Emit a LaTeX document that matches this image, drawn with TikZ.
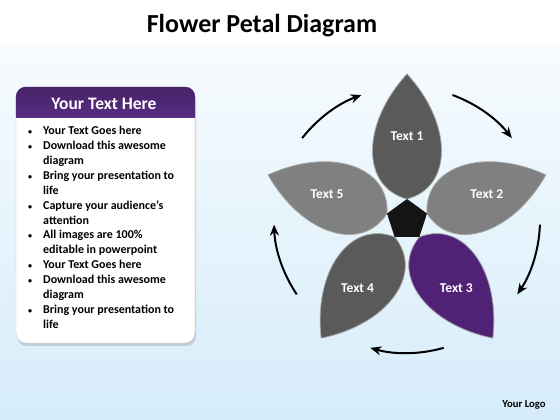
\documentclass[tikz,border=0pt]{standalone}
\usepackage{fontspec}
\setmainfont{Carlito}
\usetikzlibrary{positioning}
\usetikzlibrary{shapes.geometric, arrows.meta, shadows}
\definecolor{petalpurple}{RGB}{80,34,118}
\definecolor{headpurple}{RGB}{88,44,130}
\definecolor{darkpetal}{RGB}{90,90,90}
\definecolor{lightpetal}{RGB}{128,128,128}
\definecolor{bgblue}{RGB}{214,236,250}
\tikzstyle{cyclearrow} = [line width=2pt,-{Stealth[length=11pt,width=9pt]}]
\tikzstyle{petal} = [draw=white!65!black, line width=0.8pt]
\tikzstyle{petaltext} = [text=white, font=\fontsize{13.5}{16}\selectfont\bfseries]
\newcommand{\bitem}{\llap{{\fontsize{8}{8}\selectfont\textbullet}\hspace{11pt}}}

\begin{document}
\begin{tikzpicture}[x=1pt,y=1pt]
	%Background
	\useasboundingbox (0,0) rectangle (560,420);
	\fill[white] (0,375) rectangle (560,420);
	\shade[top color=bgblue!20!white, bottom color=bgblue] (0,0) rectangle (560,375);

	%Title
	\node (title) [font=\fontsize{26}{30}\selectfont\bfseries, anchor=base] at (262,387) {Flower Petal Diagram};

	%Text panel
	\node (panel) [draw=gray!40, fill=white, rounded corners=10pt, minimum width=179pt, minimum height=256pt,
		drop shadow={opacity=0.3, shadow xshift=1pt, shadow yshift=-3pt}] at (105.5,205) {};
	\begin{scope}
		\clip[rounded corners=10pt] (panel.south west) rectangle (panel.north east);
		\shade[top color=headpurple!80!black, bottom color=headpurple] (panel.north west) rectangle ([yshift=-31pt]panel.north east);
	\end{scope}
	\node (head) [text=white, font=\fontsize{17.5}{20}\selectfont\bfseries] at (104,316) {Your Text Here};
	\node (list) [anchor=north west, align=left, inner sep=0pt, font=\fontsize{12}{14.9}\selectfont\bfseries] at (43,294) {
		\bitem Your Text Goes here\\
		\bitem Download this awesome\\
		diagram\\
		\bitem Bring your presentation to\\
		life\\
		\bitem Capture your audience’s\\
		attention\\
		\bitem All images are 100\%\\
		editable in powerpoint\\
		\bitem Your Text Goes here\\
		\bitem Download this awesome\\
		diagram\\
		\bitem Bring your presentation to\\
		life};

	%Flower
	\coordinate (hub) at (407,200);
	\foreach \ang/\col/\txt [count=\i] in {90/darkpetal/Text 1, 18/lightpetal/Text 2, -54/petalpurple/Text 3, -126/darkpetal/Text 4, 162/lightpetal/Text 5} {
		\filldraw[petal, fill=\col, shift={(hub)}, rotate=\ang] (21,0) .. controls (33,46) and (96,46) .. (146,0) .. controls (96,-46) and (33,-46) .. (21,0) -- cycle;
		\node (label\i) [petaltext] at ([shift={(\ang:84)}]hub) {\txt};
	}
	\node (core) [regular polygon, regular polygon sides=5, minimum size=42pt, inner sep=0pt, fill=black!92] at (hub) {};

	%Arrows
	\foreach \mid in {126,54,-18,-90,-162}
		\draw[cyclearrow] ([shift={(\mid+16:133)}]hub) arc[start angle=\mid+16, end angle=\mid-16, radius=133];

	%Logo
	\node (logo) [font=\fontsize{10.7}{12}\selectfont\bfseries] at (524,15) {Your Logo};
\end{tikzpicture}
\end{document}
